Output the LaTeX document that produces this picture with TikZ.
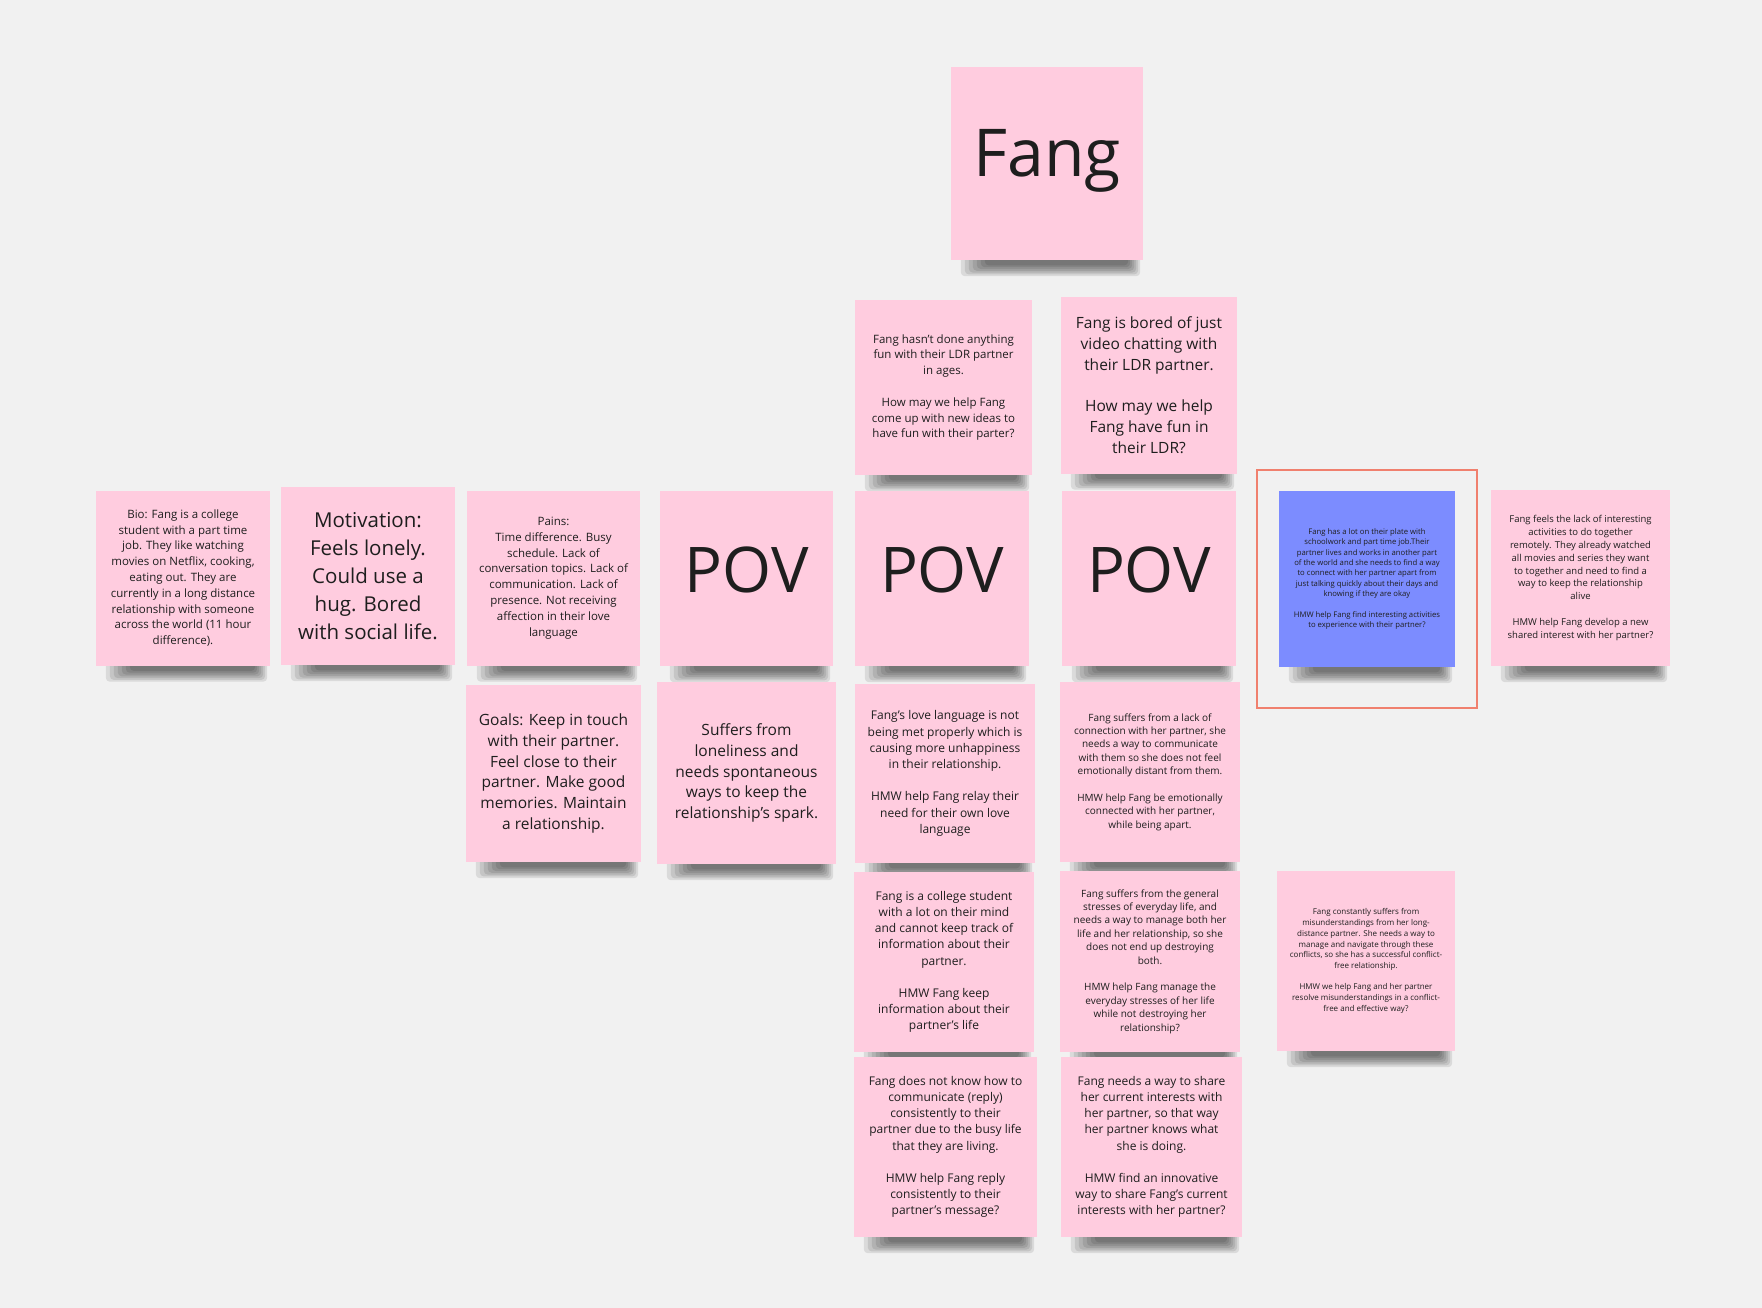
\documentclass[tikz,border=0pt]{standalone}
\usepackage{fontspec}
\setmainfont{Open Sans}
\usetikzlibrary{calc}
\definecolor{bg}{RGB}{241,241,241}
\definecolor{notepink}{RGB}{255,204,223}
\definecolor{noteblue}{RGB}{124,140,255}
\definecolor{frameorange}{RGB}{240,128,110}
\definecolor{ink}{RGB}{30,30,30}
\pgfdeclarelayer{bglayer}
\pgfdeclarelayer{shadowlayer}
\pgfsetlayers{bglayer,shadowlayer,main}
\newcommand{\fsz}[2]{\fontsize{#1pt}{#2pt}\selectfont}
\newcommand{\notesh}[1]{%
  \begin{pgfonlayer}{shadowlayer}
  \foreach \k in {0,...,6}{
    \fill[black, opacity=0.095, rounded corners=4pt]
      ($(#1.south west)+(10+4*\k,-4)$) rectangle ($(#1.south east)+(-3-2*\k,16-1.8*\k)$);
  }
  \end{pgfonlayer}}
\tikzset{
  note/.style={fill=notepink, inner sep=0pt, align=center, text=ink},
  bluenote/.style={fill=noteblue, inner sep=0pt, align=center, text=ink},
  sz/.style n args={2}{minimum width=#1pt, minimum height=#2pt},
  huge/.style={font=\fsz{66}{80}, text height=47pt, text depth=20pt},
  pov/.style={font=\fsz{63}{76}, text height=45pt, text depth=18pt},
  big/.style={font=\fsz{20.5}{28}},
  mid/.style={font=\fsz{15.5}{20.8}},
  med/.style={font=\fsz{12}{16.2}},
  small/.style={font=\fsz{11.5}{15.8}},
  smaller/.style={font=\fsz{10}{13.4}},
  tiny/.style={font=\fsz{9.5}{12.8}},
  tinier/.style={font=\fsz{8}{10.7}},
  tiniest/.style={font=\fsz{7.7}{10.4}},
  selframe/.style={draw=frameorange, line width=1.4pt, inner sep=0pt}
}
\begin{document}
\begin{tikzpicture}[x=1pt,y=-1pt]
\begin{pgfonlayer}{bglayer}
\fill[bg] (0,0) rectangle (1762,1308);
\end{pgfonlayer}
\useasboundingbox (0,0) rectangle (1762,1308);

% title
\node[note, sz={192}{193}, huge] (fang) at (1047,163.5) {Fang};

% top row
\node[note, sz={177}{175}, small] (hmm1) at (943.5,387.5) {Fang hasn't done anything\\fun with their LDR partner\\in ages.\\[\baselineskip]How may we help Fang\\come up with new ideas to\\have fun with their parter?};
\node[note, sz={176}{177}, mid] (hmm2) at (1149,385) {Fang is bored of just\\video chatting with\\their LDR partner.\\[\baselineskip]How may we help\\Fang have fun in\\their LDR?};

% middle row
\node[note, sz={174}{175}, small] (bio) at (183,578) {Bio: Fang is a college\\student with a part time\\job. They like watching\\movies on Netflix, cooking,\\eating out. They are\\currently in a long distance\\relationship with someone\\across the world (11 hour\\difference).};
\node[note, sz={174}{178}, big] (motiv) at (368,576) {Motivation:\\Feels lonely.\\Could use a\\hug. Bored\\with social life.};
\node[note, sz={173}{175}, small] (pains) at (553.5,578) {Pains:\\Time difference. Busy\\schedule. Lack of\\conversation topics. Lack of\\communication. Lack of\\presence. Not receiving\\affection in their love\\language};
\node[note, sz={173}{175}, pov] (pov1) at (746.5,578.5) {POV};
\node[note, sz={174}{175}, pov] (pov2) at (942,578.5) {POV};
\node[note, sz={174}{175}, pov] (pov3) at (1149,578.5) {POV};
\node[bluenote, sz={176}{176}, tiniest] (blue) at (1367,579) {Fang has a lot on their plate with\\schoolwork and part time job.Their\\partner lives and works in another part\\of the world and she needs to find a way\\to connect with her partner apart from\\just talking quickly about their days and\\knowing if they are okay\\[\baselineskip]HMW help Fang find interesting activities\\to experience with their partner?};
\node[selframe, sz={220}{238}] (frame) at (1367,589) {};
\node[note, sz={179}{176}, tiny] (right) at (1580.5,578) {Fang feels the lack of interesting\\activities to do together\\remotely. They already watched\\all movies and series they want\\to together and need to find a\\way to keep the relationship\\alive\\[\baselineskip]HMW help Fang develop a new\\shared interest with her partner?};

% third row
\node[note, sz={175}{177}, mid] (goals) at (553.5,773.5) {Goals: Keep in touch\\with their partner.\\Feel close to their\\partner. Make good\\memories. Maintain\\a relationship.};
\node[note, sz={179}{182}, mid] (suffers) at (746.5,773) {Suffers from\\loneliness and\\needs spontaneous\\ways to keep the\\relationship's spark.};
\node[note, sz={180}{179}, med] (love) at (945,773.5) {Fang's love language is not\\being met properly which is\\causing more unhappiness\\in their relationship.\\[\baselineskip]HMW help Fang relay their\\need for their own love\\language};
\node[note, sz={180}{180}, smaller] (conn) at (1150,772) {Fang suffers from a lack of\\connection with her partner, she\\needs a way to communicate\\with them so she does not feel\\emotionally distant from them.\\[\baselineskip]HMW help Fang be emotionally\\connected with her partner,\\while being apart.};

% fourth row
\node[note, sz={180}{180}, med] (college) at (944,962) {Fang is a college student\\with a lot on their mind\\and cannot keep track of\\information about their\\partner.\\[\baselineskip]HMW Fang keep\\information about their\\partner's life};
\node[note, sz={180}{181}, smaller] (stress) at (1150,961.5) {Fang suffers from the general\\stresses of everyday life, and\\needs a way to manage both her\\life and her relationship, so she\\does not end up destroying\\both.\\[\baselineskip]HMW help Fang manage the\\everyday stresses of her life\\while not destroying her\\relationship?};
\node[note, sz={178}{180}, tinier] (misund) at (1366,961) {Fang constantly suffers from\\misunderstandings from her long-\\distance partner. She needs a way to\\manage and navigate through these\\conflicts, so she has a successful conflict-\\free relationship.\\[\baselineskip]HMW we help Fang and her partner\\resolve misunderstandings in a conflict-\\free and effective way?};

% fifth row
\node[note, sz={183}{180}, med] (reply) at (945.5,1147) {Fang does not know how to\\communicate (reply)\\consistently to their\\partner due to the busy life\\that they are living.\\[\baselineskip]HMW help Fang reply\\consistently to their\\partner's message?};
\node[note, sz={181}{180}, med] (share) at (1151.5,1147) {Fang needs a way to share\\her current interests with\\her partner, so that way\\her partner knows what\\she is doing.\\[\baselineskip]HMW find an innovative\\way to share Fang's current\\interests with her partner?};

\notesh{fang}\notesh{hmm1}\notesh{hmm2}\notesh{bio}\notesh{motiv}
\notesh{pains}\notesh{pov1}\notesh{pov2}\notesh{pov3}\notesh{blue}
\notesh{right}\notesh{goals}\notesh{suffers}\notesh{love}\notesh{conn}
\notesh{college}\notesh{stress}\notesh{misund}\notesh{reply}\notesh{share}
\end{tikzpicture}
\end{document}
